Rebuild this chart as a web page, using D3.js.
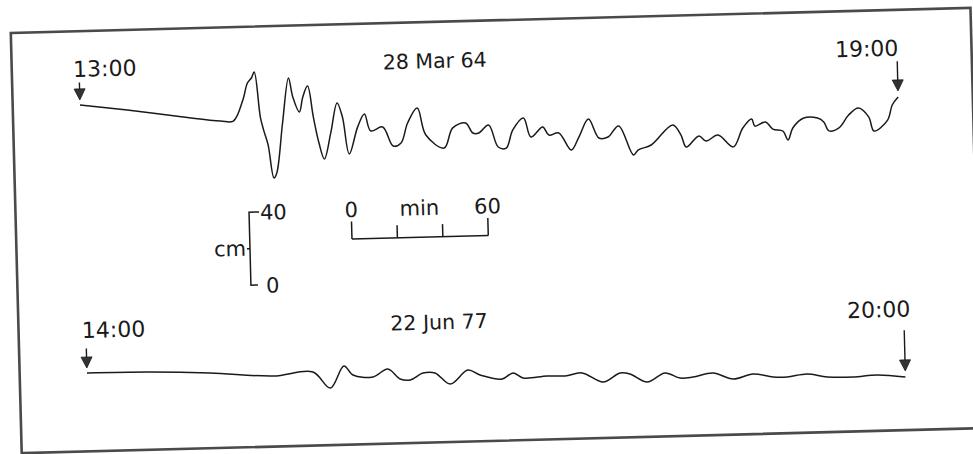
<!DOCTYPE html>
<html>
<head>
<meta charset="utf-8">
<script src="https://cdn.jsdelivr.net/npm/d3@7"></script>
<style>
  html, body { margin: 0; background: #fff; }
  svg { display: block; font-family: "DejaVu Sans", sans-serif; }
</style>
</head>
<body>
<div id="chart"></div>
<script>
// 28 Mar 64: minutes after 13:00, level in cm relative to the 13:00 level
const marMinutes = [0, 20.7, 45.3, 61.6, 67.3, 71.7, 73.9, 75.7, 77.0, 79.2,
  80.5, 82.3, 84.5, 85.8, 88.9, 92.0, 93.7, 96.4, 98.1, 100.3,
  102.5, 104.7, 106.9, 110.0, 113.1, 115.3, 117.9, 121.9, 125.0, 127.6,
  132.9, 137.3, 140.8, 143.9, 148.3, 151.8, 159.7, 163.7, 169.4, 172.5,
  175.1, 179.5, 183.5, 187.0, 190.1, 194.9, 198.0, 203.3, 205.9, 210.3,
  215.6, 219.1, 223.5, 227.9, 231.9, 236.7, 242.9, 245.1, 250.8, 260.5,
  264.0, 266.2, 271.9, 275.0, 280.3, 286.9, 291.3, 295.3, 296.6, 301.4,
  304.5, 308.9, 311.1, 313.3, 318.2, 324.3, 327.0, 329.2, 333.6, 338.0,
  342.4, 346.8, 349.0, 355.1, 357.3, 360];
const marCm = [0, -3.5, -8.1, -10.8, -11.0, 0.4, 9.6, 12.3, 15.5, -9.2,
  -16.4, -24.6, -42.8, -40.1, -12.8, 11.8, 1.3, -7.0, 1.2, 7.1,
  -9.9, -24.3, -33.1, -18.9, -2.6, -10.4, -30.7, -16.0, -9.0, -18.4,
  -16.4, -27.0, -25.4, -14.6, -6.5, -21.4, -28.8, -17.9, -15.4, -21.0,
  -21.1, -16.8, -29.0, -29.7, -19.9, -13.5, -24.0, -18.7, -23.2, -22.2,
  -31.7, -24.7, -15.0, -25.5, -25.1, -19.2, -35.3, -32.6, -30.1, -19.4,
  -25.0, -31.7, -25.8, -28.7, -25.6, -32.3, -22.1, -17.3, -21.2, -19.1,
  -23.1, -24.3, -29.3, -22.8, -17.5, -17.7, -19.9, -24.9, -23.4, -16.5,
  -12.8, -17.8, -25.6, -19.8, -11.6, -7.3];

// 22 Jun 77: minutes after 14:00, level in cm relative to the 14:00 level
const junMinutes = [0, 26.4, 54.1, 81.8, 99.4, 106.9, 113.1, 117.0, 125.8, 132.4,
  137.7, 142.1, 147.8, 153.1, 159.7, 167.6, 172.9, 182.6, 187.4, 191.8,
  202.4, 210.3, 217.8, 227.0, 234.5, 238.9, 246.4, 254.3, 260.9, 266.6,
  275.4, 284.2, 293.0, 301.8, 308.0, 316.8, 325.6, 337.0, 347.6, 360];
const junCm = [0, -0.3, -1.7, -4.3, -2.7, -11.7, 0.2, -4.9, -6.2, -2.1,
  -7.7, -8.4, -4.8, -4.9, -11.2, -3.8, -6.7, -9.2, -6.0, -8.9,
  -8.2, -8.4, -7.0, -12.3, -7.6, -8.3, -12.9, -8.2, -11.2, -10.8,
  -8.9, -12.5, -10.0, -11.9, -12.1, -10.8, -12.7, -13.1, -12.3, -13.8];

const dates = ["28 Mar 64", "22 Jun 77"];
const marTimes = ["13:00", "19:00"];
const junTimes = ["14:00", "20:00"];
const cmTicks = [0, 40];
const minTicks = [0, 20, 40, 60];
const minLabels = ["0", "min", "60"];

const width = 973;
const height = 454;
const ink = "#1a1a1a";

function drawArrow(g, x, yTop, yTip) {
  g.append("line")
    .attr("x1", x).attr("x2", x)
    .attr("y1", yTop).attr("y2", yTip - 6)
    .attr("stroke", ink).attr("stroke-width", 1.4);
  g.append("path")
    .attr("d", `M${x - 5.5},${yTip - 11}L${x + 5.5},${yTip - 11}L${x},${yTip}Z`)
    .attr("fill", "#333").attr("stroke", ink).attr("stroke-width", 0.8);
}

function drawTrace(g, x, y, minutes, cm, times, date, arrowTop, labelY, opts) {
  const data = d3.zip(minutes, cm);
  const line = d3.line()
    .x(d => x(d[0])).y(d => y(d[1]))
    .curve(d3.curveCatmullRom.alpha(0.5));

  g.append("path")
    .datum(data)
    .attr("d", line)
    .attr("fill", "none")
    .attr("stroke", ink)
    .attr("stroke-width", 1.5)
    .attr("stroke-linejoin", "round");

  const first = data[0], last = data[data.length - 1];
  drawArrow(g, x(first[0]), arrowTop, y(first[1]) - 5);
  drawArrow(g, x(last[0]), arrowTop + opts.rightArrowShift, y(last[1]) - 6);

  const labels = g.append("g").attr("fill", ink).attr("font-size", 22);
  labels.append("text").attr("x", x(first[0]) + opts.leftDx).attr("y", labelY)
    .attr("text-anchor", "start").text(times[0]);
  labels.append("text").attr("x", x(last[0]) + opts.rightDx).attr("y", labelY)
    .attr("text-anchor", opts.rightAnchor).text(times[1]);
  labels.append("text").attr("x", opts.dateX).attr("y", labelY + 0.5)
    .attr("text-anchor", "middle").attr("font-size", 20.5).text(date);
}

function drawChart() {
  const svg = d3.select("#chart").append("svg")
    .attr("width", width).attr("height", height);

  // the scanned page sits slightly rotated
  const page = svg.append("g").attr("transform", "rotate(-1.49, 486, 227)");

  page.append("rect")
    .attr("x", 16).attr("y", 20.6).attr("width", 960).attr("height", 420.4)
    .attr("fill", "none").attr("stroke", "#4a4a4a").attr("stroke-width", 2.6);

  const x = d3.scaleLinear().domain([0, 360]).range([83.3, 901.4]);
  const yMar = d3.scaleLinear().domain([0, 40]).range([94.4, 94.4 - 73]);
  const yJun = d3.scaleLinear().domain([0, 40]).range([362.6, 362.6 - 73]);

  drawTrace(page, x, yMar, marMinutes, marCm, marTimes, dates[0], 72, 66.3,
    { leftDx: -6, rightDx: 1.5, rightAnchor: "end", dateX: 439, rightArrowShift: 0 });
  drawTrace(page, x, yJun, junMinutes, junCm, junTimes, dates[1], 338, 327.5,
    { leftDx: -4, rightDx: -25, rightAnchor: "middle", dateX: 436.5, rightArrowShift: 3 });

  // vertical scale, cm
  const yBar = d3.scaleLinear().domain([0, 40]).range([279, 206]);
  const cmX = 249.5;
  const bars = page.append("g").attr("stroke", ink).attr("stroke-width", 1.5).attr("fill", "none");
  bars.append("path")
    .attr("d", `M${cmX + 10},${yBar(40)}H${cmX}V${yBar(0)}H${cmX + 7}`);
  bars.append("line")
    .attr("x1", cmX - 3).attr("x2", cmX)
    .attr("y1", yBar(20)).attr("y2", yBar(20));

  const scaleText = page.append("g").attr("fill", ink).attr("font-size", 21);
  scaleText.selectAll(".cmtick").data(cmTicks).join("text")
    .attr("class", "cmtick")
    .attr("x", d => d === 40 ? cmX + 11 : cmX + 15)
    .attr("y", d => yBar(d) + 8)
    .text(d => d);
  scaleText.append("text")
    .attr("x", cmX - 4).attr("y", yBar(20) + 7)
    .attr("text-anchor", "end").text("cm");

  // horizontal scale, minutes
  const xBar = d3.scaleLinear().domain([0, 60]).range([351.7, 351.7 + 136.35]);
  const barY = 235.5;
  bars.append("line")
    .attr("x1", xBar(0)).attr("x2", xBar(60))
    .attr("y1", barY).attr("y2", barY);
  bars.selectAll(".mintick").data(minTicks).join("line")
    .attr("class", "mintick")
    .attr("x1", d => xBar(d)).attr("x2", d => xBar(d))
    .attr("y1", barY)
    .attr("y2", d => (d === 0 || d === 60) ? barY - 17.5 : barY - 12.5);

  scaleText.selectAll(".minlabel").data(minLabels).join("text")
    .attr("class", "minlabel")
    .attr("x", (d, i) => xBar(i * 30))
    .attr("y", 213.5)
    .attr("text-anchor", "middle")
    .text(d => d);
}

document.addEventListener("DOMContentLoaded", () => {
  drawChart();
});
</script>
</body>
</html>
